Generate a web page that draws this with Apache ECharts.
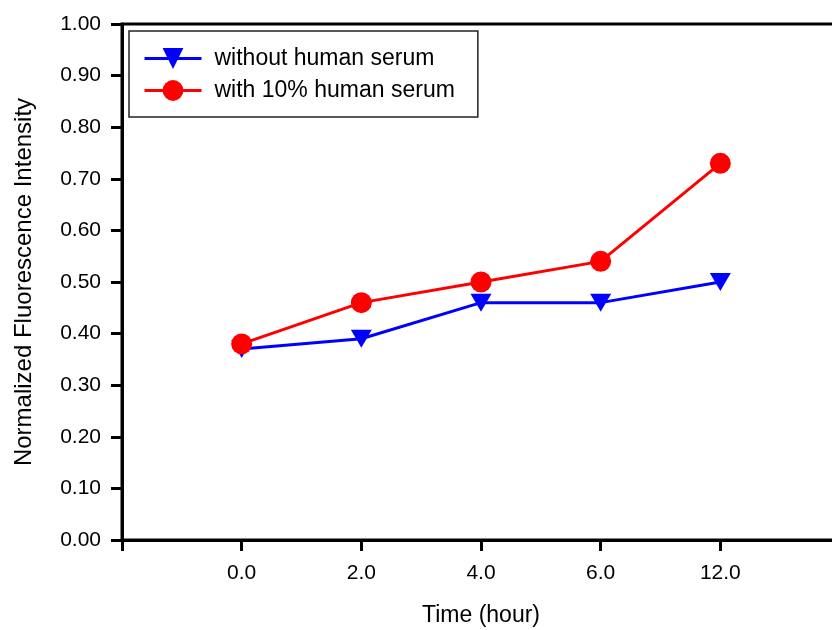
<!DOCTYPE html>
<html>
<head>
<meta charset="utf-8">
<script src="https://cdn.jsdelivr.net/npm/echarts@6/dist/echarts.min.js"></script>
<style>html,body{margin:0;padding:0;background:#fff}#c{width:832px;height:630px}</style>
</head>
<body>
<div id="c"></div>
<script>
const categories = ['0.0', '2.0', '4.0', '6.0', '12.0'];
const withoutSerum = [0.37, 0.39, 0.46, 0.46, 0.50];
const withSerum = [0.38, 0.46, 0.50, 0.54, 0.73];
const yTicks = [0, 0.1, 0.2, 0.3, 0.4, 0.5, 0.6, 0.7, 0.8, 0.9, 1.0];
const seriesNames = ['without human serum', 'with 10% human serum'];

const font = 'Liberation Sans, Arial, sans-serif';
const chart = echarts.init(document.getElementById('c'));
const toPoints = arr => arr.map((v, i) => [i, v]);

chart.setOption({
  animation: false,
  backgroundColor: '#fff',
  grid: {
    left: 122, top: 24, width: 718, height: 516,
    outerBoundsMode: 'none', containLabel: false,
    show: true, borderColor: '#000', borderWidth: 3, backgroundColor: 'transparent'
  },
  legend: {
    orient: 'vertical',
    left: 129, top: 31,
    padding: [16, 23, 15, 14],
    itemWidth: 57, itemHeight: 26, itemGap: 9,
    borderColor: '#222', borderWidth: 1.5,
    lineStyle: { width: 3 },
    textStyle: { fontFamily: font, fontSize: 23, color: '#000', padding: [0, 0, 0, 8] },
    data: seriesNames
  },
  xAxis: {
    type: 'value', min: -1, max: 5, interval: 1,
    name: 'Time (hour)', nameLocation: 'middle', nameGap: 64,
    nameTextStyle: { fontFamily: font, fontSize: 23, color: '#000' },
    axisLine: { onZero: false, lineStyle: { color: '#000', width: 3 } },
    axisTick: { show: true, length: 11, lineStyle: { color: '#000', width: 3 } },
    axisLabel: {
      margin: 23, fontFamily: font, fontSize: 21, color: '#000',
      formatter: v => (v >= 0 && v < categories.length) ? categories[v] : ''
    },
    splitLine: { show: false }
  },
  yAxis: {
    type: 'value', min: 0, max: 1, interval: 0.1,
    name: 'Normalized Fluorescence Intensity', nameLocation: 'middle', nameGap: 86,
    nameTextStyle: { fontFamily: font, fontSize: 24, color: '#000' },
    axisLine: { show: true, onZero: false, lineStyle: { color: '#000', width: 3 } },
    axisTick: { show: true, length: 11, lineStyle: { color: '#000', width: 3 } },
    axisLabel: {
      margin: 21, fontFamily: font, fontSize: 21, color: '#000',
      formatter: v => v.toFixed(2)
    },
    splitLine: { show: false }
  },
  series: [
    {
      name: seriesNames[0], type: 'line', data: toPoints(withoutSerum),
      symbol: 'triangle', symbolRotate: 180, symbolSize: [21, 18],
      lineStyle: { color: '#0000ff', width: 3 },
      itemStyle: { color: '#0000ff' }
    },
    {
      name: seriesNames[1], type: 'line', data: toPoints(withSerum),
      symbol: 'circle', symbolSize: 21,
      lineStyle: { color: '#ff0000', width: 3 },
      itemStyle: { color: '#ff0000' }
    }
  ]
});
</script>
</body>
</html>
